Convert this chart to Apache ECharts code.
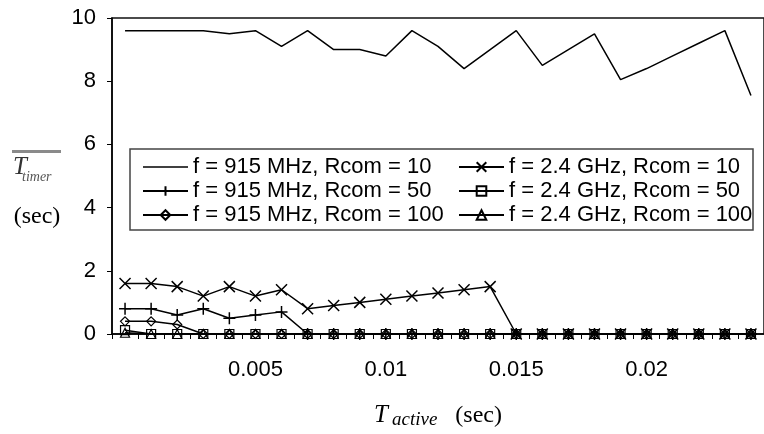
<!DOCTYPE html>
<html>
<head>
<meta charset="utf-8">
<script src="https://cdn.jsdelivr.net/npm/echarts@6/dist/echarts.min.js"></script>
<style>
  html, body { margin: 0; padding: 0; background: #fff; }
  #chart { width: 764px; height: 434px; }
</style>
</head>
<body>
<div id="chart"></div>
<script>
// Active-period durations (sec), one category per sample
const tActive = ['0', '0.001', '0.002', '0.003', '0.004', '0.005', '0.006', '0.007', '0.008',
  '0.009', '0.01', '0.011', '0.012', '0.013', '0.014', '0.015', '0.016', '0.017', '0.018',
  '0.019', '0.02', '0.021', '0.022', '0.023', '0.024'];

// Mean timer values (sec) per configuration
const f915R10  = [9.6, 9.6, 9.6, 9.6, 9.5, 9.6, 9.1, 9.6, 9.0, 9.0, 8.8, 9.6, 9.1, 8.4, 9.0, 9.6, 8.5, 9.0, 9.5, 8.05, 8.4, 8.8, 9.2, 9.6, 7.55];
const f24R10   = [1.6, 1.6, 1.5, 1.2, 1.5, 1.2, 1.4, 0.8, 0.9, 1.0, 1.1, 1.2, 1.3, 1.4, 1.5, 0, 0, 0, 0, 0, 0, 0, 0, 0, 0];
const f915R50  = [0.8, 0.8, 0.6, 0.8, 0.5, 0.6, 0.7, 0, 0, 0, 0, 0, 0, 0, 0, 0, 0, 0, 0, 0, 0, 0, 0, 0, 0];
const f24R50   = [0.12, 0, 0, 0, 0, 0, 0, 0, 0, 0, 0, 0, 0, 0, 0, 0, 0, 0, 0, 0, 0, 0, 0, 0, 0];
const f915R100 = [0.4, 0.4, 0.3, 0, 0, 0, 0, 0, 0, 0, 0, 0, 0, 0, 0, 0, 0, 0, 0, 0, 0, 0, 0, 0, 0];
const f24R100  = [0.04, 0, 0, 0, 0, 0, 0, 0, 0, 0, 0, 0, 0, 0, 0, 0, 0, 0, 0, 0, 0, 0, 0, 0, 0];

const yTicks = { min: 0, max: 10, interval: 2 };

const names = {
  a: 'f = 915 MHz, Rcom = 10',
  b: 'f = 2.4 GHz, Rcom = 10',
  c: 'f = 915 MHz, Rcom = 50',
  d: 'f = 2.4 GHz, Rcom = 50',
  e: 'f = 915 MHz, Rcom = 100',
  f: 'f = 2.4 GHz, Rcom = 100'
};

const SANS = '"Liberation Sans", Arial, sans-serif';
const SERIF = '"Liberation Serif", "Times New Roman", serif';
const CROSS = 'path://M0,0L10,10M10,0L0,10';
const PLUS = 'path://M5,0L5,10M0,5L10,5';
// plain line swatch for the marker-less series
const LINE_ONLY = 'path://M0,0L45,0L45,1.4L0,1.4Z';

function lineSeries(name, data, symbol, size, hollow) {
  return {
    name: name,
    type: 'line',
    data: data,
    symbol: symbol,
    symbolSize: size,
    showSymbol: symbol !== 'none',
    lineStyle: { color: '#000', width: 1.5 },
    itemStyle: hollow
      ? { color: 'rgba(255,255,255,0)', borderColor: '#000', borderWidth: 1.2 }
      : { color: '#000', borderColor: '#000', borderWidth: 1.5 },
    emphasis: { disabled: true },
    animation: false,
    z: 3
  };
}

const legendText = { fontFamily: SANS, fontSize: 22, color: '#000', lineHeight: 24 };

const chart = echarts.init(document.getElementById('chart'), null, { renderer: 'canvas' });

chart.setOption({
  backgroundColor: '#fff',
  animation: false,
  grid: {
    left: 112, top: 18, right: -4, bottom: 95.5,
    show: true, borderColor: '#111', borderWidth: 1.5, backgroundColor: 'transparent'
  },
  xAxis: {
    type: 'category',
    data: tActive,
    boundaryGap: true,
    axisLine: { lineStyle: { color: '#000', width: 1.5 } },
    axisTick: { show: true, interval: 0, length: 5, inside: false, lineStyle: { color: '#000', width: 1 } },
    axisLabel: {
      interval: function (i) { return i > 0 && i % 5 === 0; },
      color: '#000', fontFamily: SANS, fontSize: 22, margin: 25
    },
    splitLine: { show: false },
    name: '{t|T}{sub|active}{gap|}{sec|(sec)}',
    nameLocation: 'middle',
    nameGap: 68,
    nameTextStyle: {
      rich: {
        t: { fontFamily: SERIF, fontStyle: 'italic', fontSize: 25, color: '#000', lineHeight: 26 },
        sub: { fontFamily: SERIF, fontStyle: 'italic', fontSize: 19, color: '#000', padding: [8, 0, 0, 4] },
        gap: { width: 18 },
        sec: { fontFamily: SERIF, fontSize: 24, color: '#000', lineHeight: 26 }
      }
    }
  },
  yAxis: {
    type: 'value',
    min: yTicks.min, max: yTicks.max, interval: yTicks.interval,
    axisLine: { show: true, lineStyle: { color: '#000', width: 1.5 } },
    axisTick: { show: true, length: 5, inside: false, lineStyle: { color: '#000', width: 1 } },
    axisLabel: { color: '#000', fontFamily: SANS, fontSize: 22, margin: 16 },
    splitLine: { show: false }
  },
  legend: [
    {
      data: [{ name: names.a, icon: LINE_ONLY, itemStyle: { borderWidth: 0 } }, names.c, names.e],
      orient: 'vertical',
      left: 137, top: 150,
      itemWidth: 45, itemHeight: 12, itemGap: 0,
      textStyle: legendText,
      selectedMode: false
    },
    {
      data: [names.b, names.d, names.f],
      orient: 'vertical',
      left: 453, top: 150,
      itemWidth: 45, itemHeight: 12, itemGap: 0,
      textStyle: legendText,
      selectedMode: false
    }
  ],
  graphic: [
    // legend frame
    { type: 'rect', shape: { x: 130, y: 149, width: 623, height: 81 },
      style: { fill: '#fff', stroke: '#444', lineWidth: 1.5 }, z: 2 },
    // y-axis title: overlined T_timer above (sec)
    { type: 'rect', shape: { x: 12, y: 150, width: 49, height: 3 },
      style: { fill: '#8a8a8a' }, z: 5 },
    { type: 'text', x: 13, y: 155,
      style: { text: 'T', font: 'italic 25px ' + SERIF, fill: '#333' }, z: 5 },
    { type: 'text', x: 22, y: 170,
      style: { text: 'timer', font: 'italic 14px ' + SERIF, fill: '#555' }, z: 5 },
    { type: 'text', x: 37, y: 205,
      style: { text: '(sec)', font: '24px ' + SERIF, fill: '#000', textAlign: 'center' }, z: 5 }
  ],
  series: [
    lineSeries(names.a, f915R10, 'none', 0, false),
    lineSeries(names.b, f24R10, CROSS, 11, false),
    lineSeries(names.c, f915R50, PLUS, 12, false),
    lineSeries(names.d, f24R50, 'rect', 9, true),
    lineSeries(names.e, f915R100, 'diamond', 9, true),
    lineSeries(names.f, f24R100, 'triangle', 9, true)
  ]
});
</script>
</body>
</html>
